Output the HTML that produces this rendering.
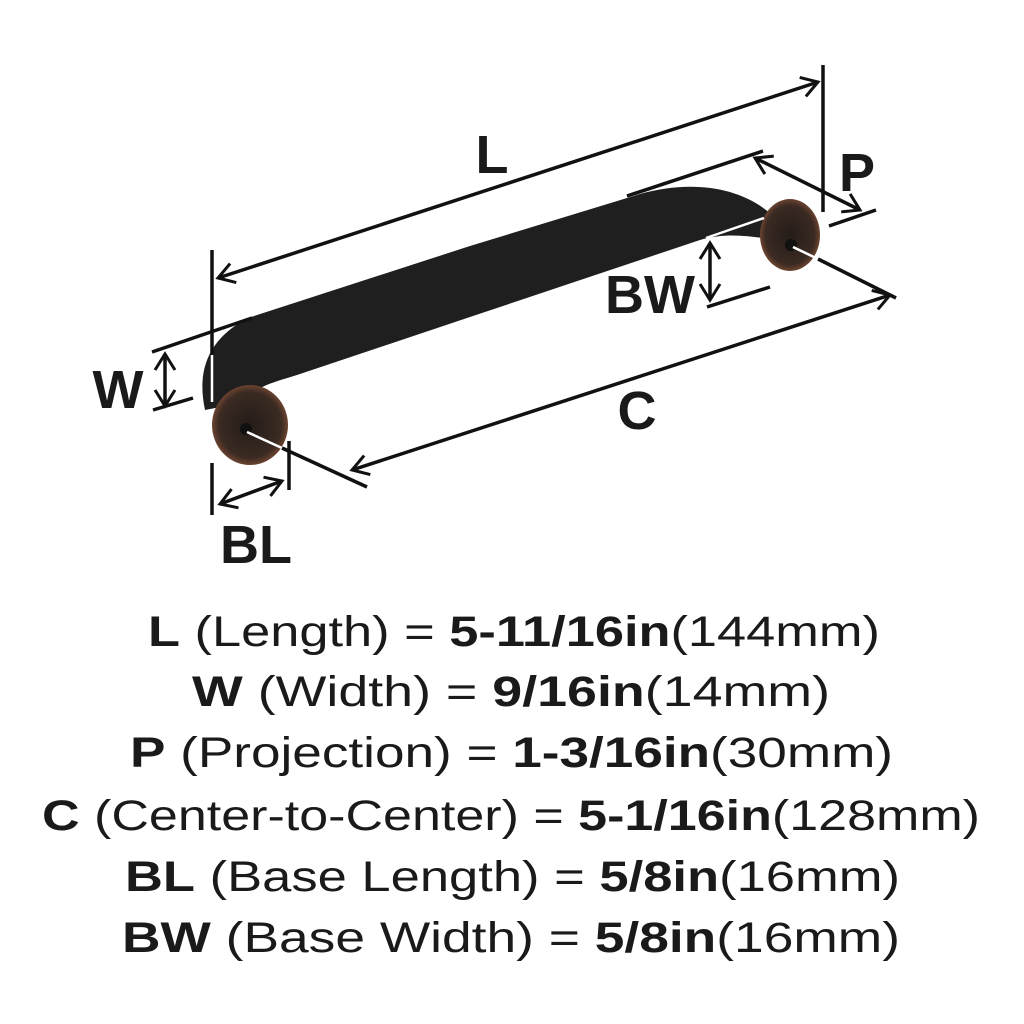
<!DOCTYPE html>
<html><head><meta charset="utf-8"><style>
html,body{margin:0;padding:0;background:#fff;width:1024px;height:1024px;overflow:hidden}
svg{display:block}
text{font-family:"Liberation Sans",sans-serif;fill:#1a1a1a}
</style></head><body>
<svg width="1024" height="1024" viewBox="0 0 1024 1024" xmlns="http://www.w3.org/2000/svg">
<defs>
<marker id="a" markerWidth="22" markerHeight="24" refX="19" refY="12" orient="auto-start-reverse" markerUnits="userSpaceOnUse">
<path d="M3,2 L19,12 L3,22" fill="none" stroke="#111" stroke-width="3"/>
</marker>
<radialGradient id="ros" cx="50%" cy="50%" r="50%">
<stop offset="0" stop-color="#241c18"/><stop offset="0.82" stop-color="#3a2a22"/><stop offset="1" stop-color="#6b4330"/>
</radialGradient>
</defs>
<g stroke="#111" stroke-width="3.5" fill="none">
<path d="M205,410 C196,368 210,338 248,318 L470,246 L640,194 C690,180 740,186 772,215 L790,240 C760,240 735,230 700,240 L470,317 L300,374 C275,382 252,387 246,402 Z" fill="#1f1f1f" stroke="none"/>
<ellipse cx="250" cy="425" rx="38" ry="40" fill="url(#ros)" stroke="none"/>
<ellipse cx="790" cy="235" rx="30" ry="36" fill="url(#ros)" stroke="none"/>
<circle cx="246" cy="429" r="6" fill="#111" stroke="none"/>
<circle cx="791" cy="245" r="6" fill="#111" stroke="none"/>
<!-- L -->
<line x1="218" y1="278" x2="818" y2="82" marker-start="url(#a)" marker-end="url(#a)"/>
<line x1="212" y1="250" x2="212" y2="355"/>
<line x1="212" y1="355" x2="212" y2="402" stroke="#fff" stroke-width="2.5"/>
<line x1="823" y1="65" x2="823" y2="212"/>
<!-- P -->
<line x1="627" y1="196" x2="763" y2="151"/>
<line x1="755" y1="158" x2="860" y2="210" marker-start="url(#a)" marker-end="url(#a)"/>
<line x1="829" y1="226" x2="876" y2="210"/>
<!-- BW -->
<line x1="706" y1="238" x2="764" y2="218" stroke="#fff" stroke-width="2.5"/>
<line x1="710" y1="243" x2="710" y2="300" marker-start="url(#a)" marker-end="url(#a)"/>
<line x1="707" y1="307" x2="770" y2="287"/>
<!-- W -->
<line x1="152" y1="352" x2="252" y2="318"/>
<line x1="153" y1="410" x2="193" y2="398"/>
<line x1="165" y1="354" x2="165" y2="406" marker-start="url(#a)" marker-end="url(#a)"/>
<!-- BL -->
<line x1="212" y1="463" x2="212" y2="515"/>
<line x1="289" y1="441" x2="289" y2="490"/>
<line x1="220" y1="504" x2="282" y2="481" marker-start="url(#a)" marker-end="url(#a)"/>
<!-- C -->
<line x1="247" y1="432" x2="282" y2="448" stroke="#fff" stroke-width="2.5"/>
<line x1="282" y1="448" x2="367" y2="487"/>
<line x1="793" y1="247" x2="818" y2="259" stroke="#fff" stroke-width="2.5"/>
<line x1="818" y1="259" x2="896" y2="298"/>
<line x1="352" y1="470" x2="890" y2="295" marker-start="url(#a)" marker-end="url(#a)"/>
</g>
<g font-size="54" font-weight="bold">
<text x="492" y="173" text-anchor="middle">L</text>
<text x="857" y="191" text-anchor="middle">P</text>
<text x="650" y="313" text-anchor="middle">BW</text>
<text x="118" y="408" text-anchor="middle">W</text>
<text x="637" y="429" text-anchor="middle">C</text>
<text x="256" y="563" text-anchor="middle">BL</text>
</g>
<g font-size="43">
<text x="148" y="646" textLength="732" lengthAdjust="spacingAndGlyphs"><tspan font-weight="bold">L</tspan> (Length) = <tspan font-weight="bold">5-11/16in</tspan>(144mm)</text>
<text x="192" y="706" textLength="638" lengthAdjust="spacingAndGlyphs"><tspan font-weight="bold">W</tspan> (Width) = <tspan font-weight="bold">9/16in</tspan>(14mm)</text>
<text x="130" y="767" textLength="763" lengthAdjust="spacingAndGlyphs"><tspan font-weight="bold">P</tspan> (Projection) = <tspan font-weight="bold">1-3/16in</tspan>(30mm)</text>
<text x="42" y="830" textLength="938" lengthAdjust="spacingAndGlyphs"><tspan font-weight="bold">C</tspan> (Center-to-Center) = <tspan font-weight="bold">5-1/16in</tspan>(128mm)</text>
<text x="125" y="891" textLength="775" lengthAdjust="spacingAndGlyphs"><tspan font-weight="bold">BL</tspan> (Base Length) = <tspan font-weight="bold">5/8in</tspan>(16mm)</text>
<text x="122" y="952" textLength="778" lengthAdjust="spacingAndGlyphs"><tspan font-weight="bold">BW</tspan> (Base Width) = <tspan font-weight="bold">5/8in</tspan>(16mm)</text>
</g>
</svg>
</body></html>
